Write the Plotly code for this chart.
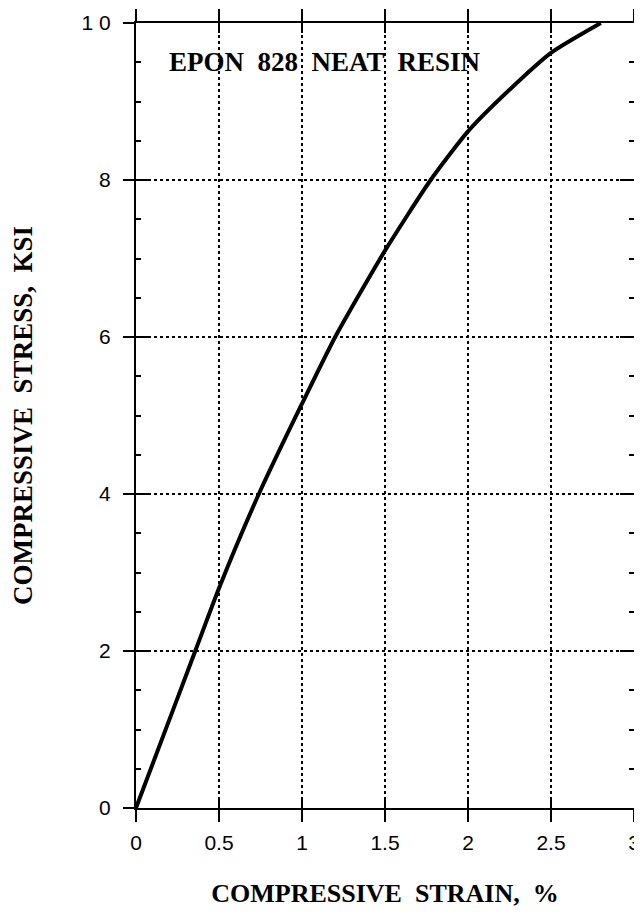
import plotly.graph_objects as go

strain = [0, 0.25, 0.357, 0.5, 0.74, 1.0, 1.2, 1.5, 1.775, 2.0, 2.25, 2.5, 2.8]
stress = [0, 1.4, 2.0, 2.8, 4.0, 5.15, 6.0, 7.1, 8.0, 8.62, 9.15, 9.62, 10.0]

x_ticks = [0, 0.5, 1, 1.5, 2, 2.5, 3]
x_labels = ["0", "0.5", "1", "1.5", "2", "2.5", "3"]
y_ticks = [0, 2, 4, 6, 8, 10]
y_labels = ["0", "2", "4", "6", "8", "1 0"]

title_text = "EPON  828  NEAT  RESIN"
x_title = "COMPRESSIVE  STRAIN,  %"
y_title = "COMPRESSIVE  STRESS,  KSI"

serif = "Liberation Serif"
sans = "Liberation Sans"

fig = go.Figure()
fig.add_trace(go.Scatter(x=strain, y=stress, mode="lines",
                         line=dict(color="black", width=4, shape="spline", smoothing=0.6),
                         showlegend=False, hoverinfo="skip"))
# invisible trace on overlay axes so they are drawn
fig.add_trace(go.Scatter(x=[0], y=[0], xaxis="x2", yaxis="y2", mode="markers",
                         marker=dict(opacity=0), showlegend=False, hoverinfo="skip"))

fig.update_layout(
    width=642, height=904,
    margin=dict(l=128, r=16, t=15, b=104),
    paper_bgcolor="white", plot_bgcolor="white",
    xaxis=dict(range=[0, 3], tickvals=x_ticks, ticktext=x_labels, automargin=False,
               ticks="outside", ticklen=12, tickwidth=2, tickcolor="black",
               showline=True, linecolor="black", linewidth=2, mirror="ticks",
               showgrid=True, gridcolor="black", griddash="dot", gridwidth=1.5,
               zeroline=False, ticklabelstandoff=3, ticklabeloverflow="allow",
               tickfont=dict(family=sans, size=21, color="black"),
               title=dict(text=f"<b>{x_title}</b>", font=dict(family=serif, size=26, color="black"),
                          standoff=31)),
    yaxis=dict(range=[0, 10], tickvals=y_ticks, ticktext=y_labels, automargin=False,
               ticks="outside", ticklen=11, tickwidth=2, tickcolor="black",
               showline=True, linecolor="black", linewidth=2, mirror="ticks",
               showgrid=True, gridcolor="black", griddash="dot", gridwidth=1.5,
               zeroline=False, ticklabelstandoff=8, ticklabeloverflow="allow",
               tickfont=dict(family=sans, size=21, color="black"),
               title=dict(text=f"<b>{y_title}</b>", font=dict(family=serif, size=27, color="black"),
                          standoff=47)),
    xaxis2=dict(overlaying="x", range=[0, 3], tickvals=x_ticks, showticklabels=False,
                ticks="inside", ticklen=10, tickwidth=2, tickcolor="black", automargin=False,
                showline=False, mirror="ticks", showgrid=False, zeroline=False),
    yaxis2=dict(overlaying="y", range=[0, 10], tickvals=y_ticks, showticklabels=False,
                ticks="inside", ticklen=14, tickwidth=2, tickcolor="black", automargin=False,
                minor=dict(ticks="inside", ticklen=5, tickwidth=1.5, tickcolor="black", dtick=0.5, showgrid=False),
                showline=False, mirror="ticks", showgrid=False, zeroline=False),
    annotations=[dict(x=0.186, y=9.5, xref="x", yref="y", text=f"<b>{title_text}</b>",
                      showarrow=False, xanchor="left", yanchor="middle",
                      font=dict(family=serif, size=27, color="black"))],
)

fig.write_html("out.html")
